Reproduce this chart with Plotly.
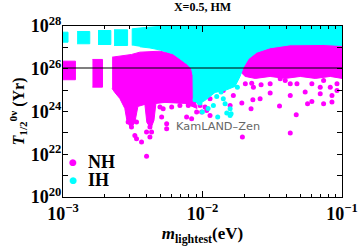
import numpy as np
import plotly.graph_objects as go

# ---------------- data (log10 of m_lightest [eV], log10 of T_1/2 [yr]) ----------------
# IH (cyan) dense regions: separate blocks at small m, then a continuous band
IH_BLOCKS_LOGM = [-3.000, -2.964, -2.964, -3.000, None,
                  -2.899, -2.808, -2.808, -2.899, None,
                  -2.749, -2.657, -2.657, -2.749, None,
                  -2.634, -2.537, -2.537, -2.634]
IH_BLOCKS_LOGT = [27.243, 27.243, 27.710, 27.710, None,
                  27.168, 27.168, 27.743, 27.743, None,
                  27.136, 27.136, 27.790, 27.790, None,
                  27.089, 27.089, 27.822, 27.822]
IH_BAND_LOGM = [-2.504, -2.504, -2.413, -2.270, -1.000, -1.000, -1.134, -1.371, -1.515,
                -1.611, -1.671, -1.707, -1.731, -1.767, -1.838, -1.910, -1.982, -2.032,
                -2.066, -2.068, -2.078, -2.114, -2.162, -2.212, -2.305, -2.377, -2.449]
IH_BAND_LOGT = [27.089, 27.869, 27.930, 28.000, 28.000, 27.089, 27.136, 27.121, 26.981,
                26.776, 26.467, 26.075, 25.640, 25.173, 24.986, 24.893, 24.519, 24.332,
                24.612, 25.687, 26.000, 26.234, 26.467, 26.701, 26.879, 26.972, 27.028]
IH_DOTS_LOGM = [-1.891, -1.826, -1.795, -2.001, -1.922, -2.054, -1.867, -1.750, -2.018,
                -1.851, -1.838, -1.802, -1.802, -1.960, -1.898]
IH_DOTS_LOGT = [23.738, 23.925, 23.897, 23.972, 24.285, 24.551, 24.907, 25.140, 24.393,
                24.598, 24.364, 24.131, 23.818, 24.145, 24.706]

# NH (magenta) dense regions
NH_BLOCKS_LOGM = [-3.000, -2.911, -2.911, -3.000, None,
                  -2.789, -2.717, -2.717, -2.789]
NH_BLOCKS_LOGT = [25.486, 25.486, 26.355, 26.355, None,
                  25.140, 25.140, 26.435, 26.435]
NH_BODY_LOGM = [-2.648, -2.509, -2.449, -2.305, -2.212, -2.162, -2.114, -2.078, -2.068,
                -2.061, -2.054, -2.039, -2.126, -2.269, -2.334, -2.348, -2.370, -2.399,
                -2.413, -2.463, -2.485, -2.514, -2.542, -2.557, -2.593, -2.629, -2.648]
NH_BODY_LOGT = [26.542, 26.668, 26.776, 26.822, 26.701, 26.467, 26.234, 26.000, 25.687,
                24.986, 24.519, 24.145, 24.379, 24.425, 24.379, 23.584, 23.210, 23.491,
                24.332, 24.238, 23.491, 23.210, 23.584, 24.145, 24.612, 24.893, 25.079]
NH_RIGHT_LOGM = [-1.707, -1.671, -1.611, -1.515, -1.371, -1.134, -1.000, -1.000, -1.084,
                 -1.192, -1.299, -1.407, -1.515, -1.622, -1.694, -1.723]
NH_RIGHT_LOGT = [26.075, 26.467, 26.776, 26.981, 27.121, 27.136, 27.089, 25.547, 25.640,
                 25.547, 25.640, 25.547, 25.640, 25.547, 25.640, 25.827]
NH_DOTS_LOGM = [-1.693, -1.647, -1.635, -1.580, -1.515, -1.443, -1.407, -1.371, -1.323,
                -1.264, -1.216, -1.156, -1.132, -1.084, -1.036, -1.036, -1.587, -1.639,
                -1.515, -1.371, -1.247, -1.216, -1.156, -1.132, -1.072, -1.072, -1.718,
                -1.652, -1.448, -1.328, -1.371, -1.714, -1.802, -1.779, -1.851, -1.898,
                -1.946, -1.982, -2.042, -1.970, -1.946,
                -2.509, -2.485, -2.473, -2.437, -2.377, -2.365, -2.377, -2.401, -2.293,
                -2.257, -2.257, -2.305, -2.282, -2.221, -2.162, -2.102, -2.078, -2.018,
                -2.006, -2.521, -2.533, -2.401, -2.473, -2.114]
NH_DOTS_LOGT = [25.299, 25.327, 25.140, 25.252, 25.299, 25.533, 25.453, 25.299, 25.299,
                24.907, 25.299, 25.140, 25.453, 25.140, 25.299, 24.986, 24.598, 24.551,
                24.860, 24.752, 24.364, 24.472, 24.832, 24.364, 24.439, 24.752, 24.393,
                24.131, 24.252, 23.850, 22.991, 22.804, 24.285, 24.752, 24.986, 25.065,
                24.598, 24.206, 23.972, 24.051, 23.818,
                23.271, 22.883, 22.729, 22.570, 23.271, 23.037, 22.804, 21.902, 23.738,
                23.430, 23.196, 24.206, 24.131, 24.206, 24.285, 24.285, 23.664, 24.285,
                23.972, 23.664, 23.505, 23.037, 23.505, 23.738]

KAMLAND_LIMIT = 1.07e26   # yr
X_RANGE_EV = [1e-3, 1e-1]

Y_TICKVALS = [10.0 ** k for k in range(20, 29)]
Y_TICKTEXT = ["<b>10<sup>20</sup></b>", "", "<b>10<sup>22</sup></b>", "",
              "<b>10<sup>24</sup></b>", "", "<b>10<sup>26</sup></b>", "",
              "<b>10<sup>28</sup></b>"]
X_TICKVALS = [1e-3, 1e-2, 1e-1]
X_TICKTEXT = ["<b>10<sup>\u22123</sup></b>", "<b>10<sup>\u22122</sup></b>",
              "<b>10<sup>\u22121</sup></b>"]
X_MINOR = [m * 10.0 ** e for e in (-3, -2) for m in range(2, 10)]
LEGEND_LABELS = ["NH", "IH"]


def pw(a):
    return [None if v is None else 10.0 ** v for v in a]


MAG = "#FF00FF"
CYA = "#00FFFF"

fig = go.Figure()
# NH regions
for lx, ly in ((NH_BLOCKS_LOGM, NH_BLOCKS_LOGT), (NH_BODY_LOGM, NH_BODY_LOGT),
               (NH_RIGHT_LOGM, NH_RIGHT_LOGT)):
    fig.add_trace(go.Scatter(x=pw(lx), y=pw(ly), mode="lines", fill="toself",
                             fillcolor=MAG, line=dict(color=MAG, width=1),
                             showlegend=False, hoverinfo="skip"))
fig.add_trace(go.Scatter(x=pw(NH_DOTS_LOGM), y=pw(NH_DOTS_LOGT), mode="markers",
                         marker=dict(color=MAG, size=5), name=LEGEND_LABELS[0],
                         showlegend=False))
# IH regions
for lx, ly in ((IH_BLOCKS_LOGM, IH_BLOCKS_LOGT), (IH_BAND_LOGM, IH_BAND_LOGT)):
    fig.add_trace(go.Scatter(x=pw(lx), y=pw(ly), mode="lines", fill="toself",
                             fillcolor=CYA, line=dict(color=CYA, width=1),
                             showlegend=False, hoverinfo="skip"))
fig.add_trace(go.Scatter(x=pw(IH_DOTS_LOGM), y=pw(IH_DOTS_LOGT), mode="markers",
                         marker=dict(color=CYA, size=5), name=LEGEND_LABELS[1],
                         showlegend=False))
# KamLAND-Zen limit
fig.add_trace(go.Scatter(x=X_RANGE_EV, y=[KAMLAND_LIMIT, KAMLAND_LIMIT], mode="lines",
                         line=dict(color="rgba(0,0,0,0.5)", width=2),
                         showlegend=False, hoverinfo="skip"))

serif = "Liberation Serif"
fig.add_annotation(x=-1.889, y=23.32, xref="x", yref="y", text="KamLAND\u2013Zen",
                   showarrow=False, font=dict(family="DejaVu Sans", size=11.3, color="#666666"))

# legend (drawn as text: coloured bullet + bold label)
for label, col, ypos in ((LEGEND_LABELS[0], MAG, 0.206), (LEGEND_LABELS[1], CYA, 0.101)):
    fig.add_annotation(x=0.035, y=ypos, xref="paper", yref="paper", text="\u25cf",
                       showarrow=False, xanchor="center", yanchor="middle",
                       font=dict(family="DejaVu Sans", size=9, color=col))
    fig.add_annotation(x=0.082, y=ypos, xref="paper", yref="paper",
                       text="<b>%s</b>" % label, showarrow=False, height=15,
                       xanchor="left", yanchor="middle",
                       font=dict(family=serif, size=18, color="black"))

fig.update_layout(
    width=360, height=248,
    margin=dict(l=63, r=18, t=26, b=51, autoexpand=False),
    plot_bgcolor="white", paper_bgcolor="white",
    title=dict(text="<b>X=0.5, HM</b>", x=0.5625, xanchor="center", y=0.972,
               yanchor="middle", font=dict(family=serif, size=12, color="black")),
    showlegend=False,
)
fig.update_xaxes(type="log", range=[-3, -1], showgrid=False, zeroline=False,
                 automargin=False,
                 showline=True, linecolor="black", linewidth=1, mirror="ticks",
                 ticks="inside", ticklen=6, tickcolor="black",
                 tickvals=X_TICKVALS, ticktext=X_TICKTEXT,
                 minor=dict(tickvals=X_MINOR, ticks="inside", ticklen=3, tickcolor="black"),
                 tickfont=dict(family=serif, size=18, color="black"),
                 title=dict(text="<b><i>m</i><sub>lightest</sub>(eV)</b>",
                            font=dict(family=serif, size=17, color="black"), standoff=4))
fig.update_yaxes(type="log", range=[20, 28], showgrid=False, zeroline=False,
                 automargin=False,
                 showline=True, linecolor="black", linewidth=1, mirror="ticks",
                 ticks="inside", ticklen=5, tickcolor="black", ticklabelstandoff=-3,
                 tickvals=Y_TICKVALS, ticktext=Y_TICKTEXT,
                 tickfont=dict(family=serif, size=18, color="black"),
                 title=dict(text="<b><i>T</i><sub>1/2</sub><sup>0\u03bd</sup> (Yr)</b>",
                            font=dict(family=serif, size=16, color="black"), standoff=2))

fig.write_html("out.html", config={"displayModeBar": False},
               post_script="document.body.style.margin='0px';")
